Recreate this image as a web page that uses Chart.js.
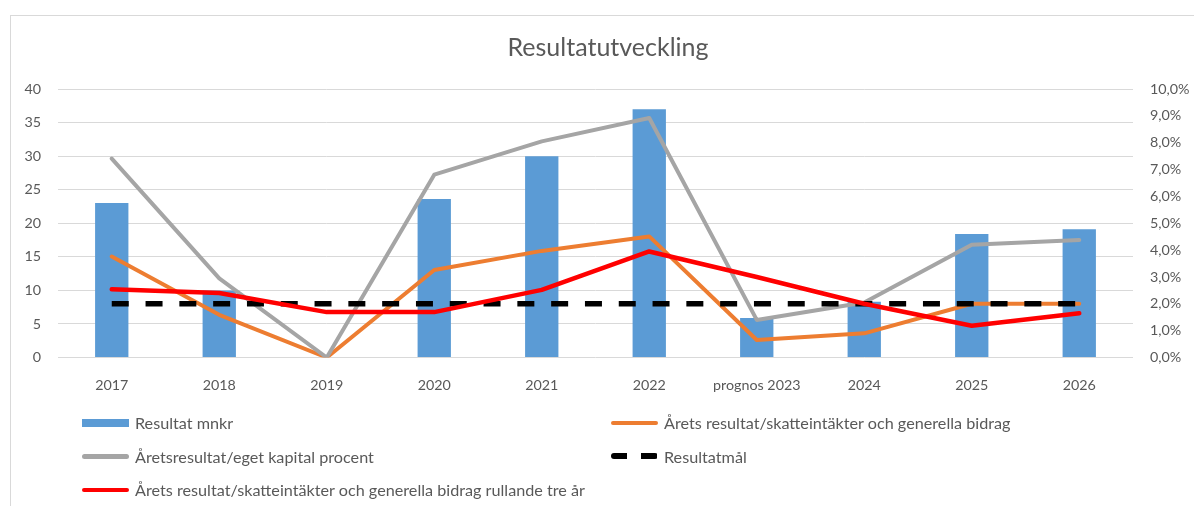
<!DOCTYPE html>
<html lang="sv">
<head>
    <meta charset="UTF-8">
    <title>Resultatutveckling</title>
    <script src="https://cdn.jsdelivr.net/npm/chart.js"></script>
    <style>
        html, body { margin: 0; padding: 0; background: #fff; }
        #wrap { position: relative; width: 1194px; height: 506px; overflow: hidden; }
        #frame { position: absolute; left: 10px; top: 15px; right: -2px; bottom: -2px;
                 border-left: 1px solid #d9d9d9; border-top: 1px solid #d9d9d9; }
        #chart { position: absolute; left: 0; top: 0; }
        #legend { position: absolute; left: 82px; top: 406px; width: 1100px;
                  display: grid; grid-template-columns: 529px auto; grid-auto-rows: 33.5px;
                  font-family: Lato, sans-serif; font-size: 16.2px; color: #595959; }
        .item { display: flex; align-items: center; white-space: nowrap; }
        .sw { width: 47px; margin-right: 6px; flex: none; }
    </style>
</head>
<body>
<div id="wrap">
    <div id="frame"></div>
    <canvas id="chart" width="1194" height="506"></canvas>
    <div id="legend"></div>
</div>
<script>
    // kategorier
    const years = ['2017', '2018', '2019', '2020', '2021', '2022', 'prognos 2023', '2024', '2025', '2026'];
    // Resultat mnkr (vänster axel)
    const resultatMnkr = [23.0, 10.0, 0, 23.6, 30.0, 37.0, 5.9, 8.3, 18.4, 19.1];
    // procent (höger axel)
    const skatteintakter = [3.76, 1.59, 0, 3.26, 3.97, 4.51, 0.65, 0.90, 2.0, 2.0];
    const egetKapital = [7.41, 2.95, 0, 6.81, 8.05, 8.92, 1.40, 2.05, 4.2, 4.38];
    const resultatmal = [2, 2, 2, 2, 2, 2, 2, 2, 2, 2];
    const rullande = [2.54, 2.40, 1.69, 1.69, 2.52, 3.95, 3.0, 2.0, 1.18, 1.65];

    const leftTicks = { min: 0, max: 40, step: 5 };
    const rightTicks = { min: 0, max: 10, step: 1 };

    const gray = '#595959';
    const font = 'Lato, sans-serif';

    const datasets = [
        { type: 'bar', label: 'Resultat mnkr', data: resultatMnkr, yAxisID: 'y',
          backgroundColor: '#5B9BD5', barPercentage: 0.31, categoryPercentage: 1, order: 5 },
        { type: 'line', label: 'Årets resultat/skatteintäkter och generella bidrag', data: skatteintakter, yAxisID: 'y1',
          borderColor: '#ED7D31', borderWidth: 4, order: 4 },
        { type: 'line', label: 'Åretsresultat/eget kapital procent', data: egetKapital, yAxisID: 'y1',
          borderColor: '#A5A5A5', borderWidth: 4, order: 3 },
        { type: 'line', label: 'Resultatmål', data: resultatmal, yAxisID: 'y1',
          borderColor: '#000000', borderWidth: 5.5, borderDash: [17, 16.8], borderCapStyle: 'butt', order: 2 },
        { type: 'line', label: 'Årets resultat/skatteintäkter och generella bidrag rullande tre år', data: rullande, yAxisID: 'y1',
          borderColor: '#FF0000', borderWidth: 4.5, order: 1 }
    ];
    datasets.forEach(d => {
        if (d.type === 'line') {
            d.pointRadius = 0;
            d.tension = 0;
            d.borderJoinStyle = 'round';
            if (!d.borderCapStyle) d.borderCapStyle = 'round';
        }
    });

    const chart = new Chart(document.getElementById('chart'), {
        data: { labels: years, datasets: datasets },
        options: {
            responsive: false,
            animation: false,
            // vänster padding flyttar titelns mitt, y-axeln görs smalare i gengäld
            layout: { padding: { left: 22, right: 0, top: 0, bottom: 0 } },
            plugins: {
                legend: { display: false },
                tooltip: { enabled: false },
                title: {
                    display: true,
                    text: 'Resultatutveckling',
                    color: gray,
                    font: { family: font, size: 25, weight: 'normal' },
                    padding: { top: 33, bottom: 26 }
                }
            },
            scales: {
                x: {
                    grid: { display: false },
                    border: { display: false },
                    ticks: { color: gray, font: { family: font, size: 14.3 }, padding: 11, maxRotation: 0, autoSkip: false },
                    afterFit: s => { s.height = 148.5; }
                },
                y: {
                    position: 'left',
                    min: leftTicks.min, max: leftTicks.max,
                    ticks: { stepSize: leftTicks.step, color: gray, font: { family: font, size: 14.3 }, padding: 17 },
                    grid: { color: '#d9d9d9', lineWidth: 1, drawTicks: false },
                    border: { display: false },
                    afterFit: s => { s.width = 36; }
                },
                y1: {
                    position: 'right',
                    min: rightTicks.min, max: rightTicks.max,
                    ticks: { stepSize: rightTicks.step, color: gray, font: { family: font, size: 14.3 }, padding: 17,
                             callback: v => v.toFixed(1).replace('.', ',') + '%' },
                    grid: { display: false, drawTicks: false },
                    border: { display: false },
                    afterFit: s => { s.width = 61; }
                }
            }
        }
    });

    // egen legend i två kolumner, byggd från dataseten
    const legend = document.getElementById('legend');
    chart.data.datasets.forEach(d => {
        const item = document.createElement('div');
        item.className = 'item';
        const sw = document.createElement('div');
        sw.className = 'sw';
        if (d.type === 'bar') {
            sw.style.height = '8px';
            sw.style.background = d.backgroundColor;
        } else if (d.borderDash) {
            sw.style.height = '6px';
            sw.style.background = 'repeating-linear-gradient(90deg, ' + d.borderColor + ' 0 16px, transparent 16px 30px)';
            sw.style.borderRadius = '3px';
        } else {
            sw.style.height = '4.5px';
            sw.style.background = d.borderColor;
            sw.style.borderRadius = '3px';
        }
        const txt = document.createElement('span');
        txt.textContent = d.label;
        item.appendChild(sw);
        item.appendChild(txt);
        legend.appendChild(item);
    });
</script>
</body>
</html>
